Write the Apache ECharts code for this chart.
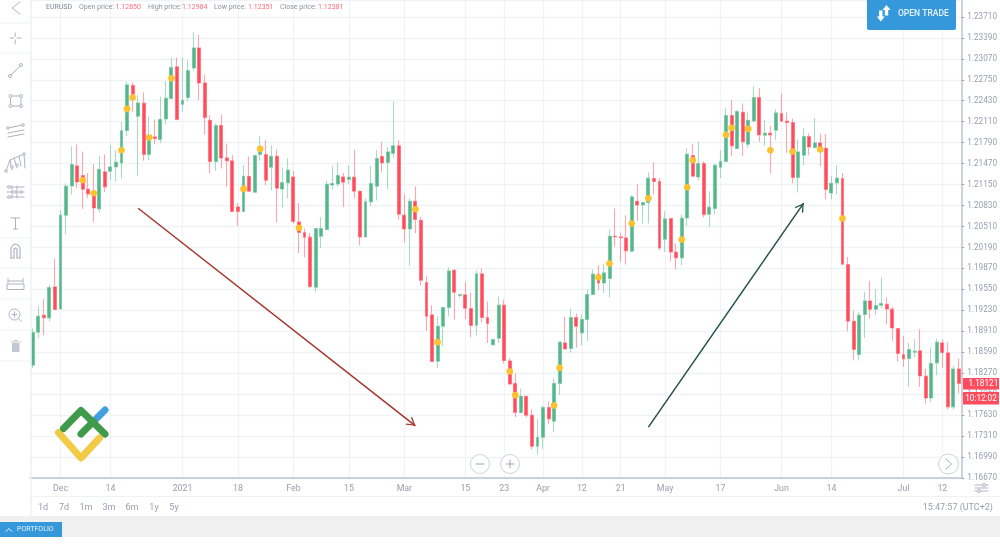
<!DOCTYPE html>
<html>
<head>
<meta charset="utf-8">
<title>EURUSD</title>
<script src="https://cdn.jsdelivr.net/npm/echarts@6/dist/echarts.min.js"></script>
<style>
  html, body { margin: 0; padding: 0; background: #fff; }
  #chart { width: 1000px; height: 545px; }
</style>
</head>
<body>
<div id="chart"></div>
<script>
// daily EURUSD candles
const opens = [
  1.18392,1.18896,1.19156,1.19115,1.19588,1.19252,1.20683,1.21130,1.21435,1.21289,
  1.21080,1.21014,1.20779,1.21344,1.21354,1.21420,1.21481,1.21976,1.22663,1.22194,
  1.22393,1.21609,1.21878,1.21838,1.22153,1.22464,1.22947,1.22377,1.22480,1.22931,
  1.23237,1.22702,1.22133,1.21502,1.22052,1.21557,1.21512,1.20809,1.20739,1.21278,
  1.21034,1.21609,1.21609,1.21415,1.21583,1.21084,1.21176,1.21267,1.20580,1.20419,
  1.20347,1.19583,1.20362,1.20464,1.21145,1.21160,1.21267,1.21228,1.21263,1.21049,
  1.20351,1.20886,1.21125,1.21579,1.21487,1.21625,1.21741,1.20683,1.20473,1.20896,
  1.20606,1.19655,1.19160,1.18454,1.18988,1.19273,1.19843,1.19457,1.19466,1.19258,
  1.19003,1.19786,1.19121,1.18703,1.18805,1.19309,1.18458,1.18113,1.17670,1.17919,
  1.17629,1.17156,1.17293,1.17747,1.17538,1.18113,1.18733,1.18648,1.19121,1.18886,
  1.19090,1.19472,1.19782,1.19649,1.19716,1.20362,1.20351,1.20336,1.20133,1.20896,
  1.20840,1.20877,1.21243,1.21197,1.20316,1.20632,1.20118,1.20031,1.20641,1.21594,
  1.21267,1.21472,1.20698,1.20785,1.21415,1.21502,1.22205,1.21701,1.22255,1.21767,
  1.22122,1.22480,1.21904,1.21935,1.21980,1.22235,1.22118,1.22098,1.21258,1.21599,
  1.21884,1.21716,1.21786,1.21705,1.21023,1.21176,1.21243,1.19930,1.19064,1.18556,
  1.19167,1.19374,1.19248,1.19309,1.19324,1.19248,1.18953,1.18556,1.18495,1.18591,
  1.18611,1.18225,1.17893,1.18428,1.18733,1.18580,1.17756,1.18336
];
const closes = [
  1.18892,1.19141,1.19115,1.19579,1.19243,1.20683,1.21125,1.21457,1.21191,1.21080,
  1.21008,1.20794,1.21385,1.21115,1.21420,1.21492,1.21970,1.22672,1.22530,1.22397,
  1.21609,1.21889,1.21854,1.22144,1.22469,1.22938,1.22144,1.22438,1.22892,1.23237,
  1.22702,1.22174,1.21502,1.22052,1.21557,1.21512,1.20739,1.20739,1.21278,1.21049,
  1.21594,1.21701,1.21217,1.21583,1.21095,1.21182,1.21370,1.20586,1.20419,1.20347,
  1.19594,1.20480,1.20480,1.21156,1.21167,1.21289,1.21186,1.21263,1.21049,1.20351,
  1.20886,1.21167,1.21548,1.21481,1.21649,1.21741,1.20698,1.20473,1.20896,1.20617,
  1.19690,1.19141,1.18449,1.18988,1.19273,1.19832,1.19507,1.19472,1.19263,1.18999,
  1.19786,1.19121,1.19029,1.18785,1.19309,1.18464,1.18107,1.17670,1.17919,1.17629,
  1.17156,1.17289,1.17747,1.17573,1.18113,1.18744,1.18641,1.19121,1.18988,1.19090,
  1.19472,1.19782,1.19649,1.19802,1.20362,1.20350,1.20339,1.20138,1.20962,1.20840,
  1.20877,1.21248,1.21197,1.20183,1.20626,1.20122,1.20031,1.20637,1.21614,1.21278,
  1.21472,1.20693,1.20805,1.21446,1.21502,1.22205,1.21741,1.22266,1.21802,1.22133,
  1.22480,1.21908,1.21935,1.21908,1.22244,1.22118,1.22098,1.21258,1.21649,1.21884,
  1.21725,1.21786,1.21655,1.21075,1.21171,1.21248,1.19934,1.19064,1.18632,1.19156,
  1.19374,1.19248,1.19304,1.19335,1.19252,1.18962,1.18571,1.18489,1.18632,1.18606,
  1.18229,1.17893,1.18418,1.18744,1.18586,1.17756,1.18336,1.18113
];
const lows = [
  1.18351,1.18805,1.18851,1.19060,1.19232,1.19243,1.20392,1.20999,1.21099,1.20779,
  1.20947,1.20576,1.20724,1.21038,1.21217,1.21202,1.21243,1.21893,1.22251,1.21283,
  1.21512,1.21522,1.21767,1.21786,1.22067,1.22454,1.22133,1.22260,1.22423,1.22896,
  1.22438,1.21919,1.21319,1.21359,1.21396,1.21115,1.20733,1.20519,1.20733,1.21038,
  1.21023,1.21512,1.21141,1.21064,1.20576,1.20800,1.20938,1.20556,1.20107,1.20037,
  1.19568,1.19512,1.20183,1.20454,1.21075,1.21125,1.20809,1.21156,1.20938,1.20225,
  1.20347,1.20820,1.20907,1.21339,1.21084,1.21553,1.20611,1.20270,1.19909,1.20412,
  1.19609,1.18916,1.18443,1.18351,1.18683,1.19141,1.19090,1.19426,1.19099,1.18815,
  1.18851,1.19049,1.18733,1.18698,1.18733,1.18418,1.18087,1.17603,1.17655,1.17594,
  1.17105,1.17034,1.17115,1.17487,1.17374,1.17939,1.18637,1.18586,1.18657,1.18698,
  1.18764,1.19466,1.19538,1.19496,1.19426,1.20209,1.19970,1.19930,1.20122,1.20596,
  1.20556,1.20556,1.21003,1.20148,1.20122,1.19980,1.19858,1.19919,1.20519,1.21273,
  1.21217,1.20652,1.20504,1.20698,1.21252,1.21492,1.21588,1.21690,1.21588,1.21710,
  1.22102,1.21802,1.21741,1.21319,1.21828,1.22110,1.21634,1.21167,1.21034,1.21450,
  1.21599,1.21701,1.21431,1.20922,1.20922,1.20999,1.19927,1.18912,1.18469,1.18469,
  1.18809,1.19105,1.19156,1.19258,1.19018,1.18764,1.18443,1.18367,1.18061,1.18510,
  1.18061,1.17808,1.17832,1.18240,1.18351,1.17716,1.17716,1.17960
];
const highs = [
  1.18953,1.19293,1.19400,1.19618,1.20021,1.20759,1.21167,1.21736,1.21762,1.21655,
  1.21328,1.21461,1.21583,1.21614,1.21751,1.21675,1.22107,1.22718,1.22709,1.22515,
  1.22560,1.22194,1.22144,1.22489,1.22733,1.23090,1.23090,1.23090,1.23049,1.23476,
  1.23435,1.22831,1.22209,1.22083,1.22220,1.21777,1.21599,1.20870,1.21446,1.21573,
  1.21599,1.21889,1.21828,1.21751,1.21686,1.21411,1.21548,1.21359,1.20870,1.20480,
  1.20412,1.20484,1.20652,1.21212,1.21431,1.21492,1.21328,1.21446,1.21686,1.21064,
  1.20938,1.21431,1.21675,1.21797,1.21725,1.22419,1.21828,1.20999,1.20938,1.21125,
  1.20657,1.19751,1.19309,1.19141,1.19283,1.19884,1.19858,1.19477,1.19660,1.19503,
  1.19838,1.19869,1.19365,1.18794,1.19446,1.19396,1.18499,1.18266,1.18037,1.17927,
  1.17716,1.17579,1.17777,1.17843,1.18190,1.18748,1.19130,1.19258,1.19182,1.19171,
  1.19548,1.19854,1.19919,1.19934,1.20469,1.20785,1.20415,1.20683,1.20988,1.21156,
  1.20886,1.21335,1.21487,1.21252,1.20744,1.20637,1.20250,1.20693,1.21701,1.21767,
  1.21802,1.21507,1.21049,1.21472,1.21675,1.22321,1.22438,1.22286,1.22388,1.22260,
  1.22652,1.22622,1.22133,1.22041,1.22301,1.22541,1.22251,1.22159,1.21843,1.22006,
  1.21930,1.22168,1.21930,1.21919,1.21283,1.21446,1.21328,1.20046,1.19232,1.19206,
  1.19512,1.19680,1.19553,1.19731,1.19426,1.19283,1.18958,1.18835,1.18733,1.18790,
  1.18942,1.18342,1.18663,1.18800,1.18785,1.18744,1.18382,1.18495
];

// yellow event dots: candle index and price
const dotIndex = [9,11,16,17,18,21,25,38,41,48,69,73,86,87,94,95,102,104,108,111,117,118,119,125,126,129,133,137,142,146];
const dotPrice = [
  1.21217,1.21018,1.21675,1.22305,1.22480,1.21868,1.22774,1.21084,1.21695,1.20489,
  1.20774,1.18744,1.18296,1.17935,1.17778,1.18351,1.19736,1.19945,1.20556,1.20942,
  1.20312,1.21110,1.21522,1.21909,1.22015,1.22000,1.21675,1.21655,1.21685,1.20632
];

// date labels on the time axis
const tickIndex = [5,14,27,37,47,57,67,78,85,92,99,106,114,124,135,144,157,164];
const tickText = ['Dec','14','2021','18','Feb','15','Mar','15','23','Apr','12','21','May','17','Jun','14','Jul','12'];

const rangeButtons = ['1d','7d','1m','3m','6m','1y','5y'];
const rangeButtonX = [43,64,86,109,132,154,174];

const priceMin = 1.1667;
const priceMax = 1.23968;
const priceStep = 0.0032;

const categories = opens.map(function (v, i) {
  const k = tickIndex.indexOf(i);
  return k >= 0 ? tickText[k] : String(i);
});
const isDateTick = function (i) { return tickIndex.indexOf(i) >= 0; };

const iconColor = '#adb4c1';
const paleLine = '#eef1f5';
const blue = '#3498db';
const red = '#ff4d5e';
const green = '#55b78c';

// little helpers for the page furniture around the chart
function ln(x1, y1, x2, y2, color, w) {
  return { type: 'line', z: 60, shape: { x1: x1, y1: y1, x2: x2, y2: y2 }, style: { stroke: color || iconColor, lineWidth: w || 1, lineCap: 'round' } };
}
function poly(points, color, w) {
  return { type: 'polyline', z: 60, shape: { points: points }, style: { stroke: color || iconColor, lineWidth: w || 1, lineCap: 'round', lineJoin: 'round', fill: null } };
}
function circ(x, y, r, fill, stroke) {
  return { type: 'circle', z: 60, shape: { cx: x, cy: y, r: r }, style: { fill: fill || '#fff', stroke: stroke || iconColor, lineWidth: 1 } };
}
function box(x, y, w, h, fill, r) {
  return { type: 'rect', z: 55, shape: { x: x, y: y, width: w, height: h, r: r || 0 }, style: { fill: fill } };
}
function txt(x, y, text, color, size, align, weight) {
  return { type: 'text', z: 61, x: x, y: y, style: { text: text, fill: color, font: (weight || 'normal') + ' ' + size + 'px Roboto', textAlign: align || 'left', textVerticalAlign: 'middle' } };
}

const furniture = [
  // toolbar frame
  ln(31, 0, 31, 516, paleLine, 1.5),
  ln(0, 23, 31, 23, paleLine), ln(0, 53, 31, 53, paleLine),
  ln(0, 238, 31, 238, paleLine), ln(0, 268, 31, 268, paleLine), ln(0, 299, 31, 299, paleLine),
  ln(0, 330, 31, 330, paleLine), ln(0, 361, 31, 361, paleLine),
  // back chevron
  poly([[20, 2], [12, 8], [20, 14]]),
  // crosshair
  ln(10, 38, 13.5, 38), ln(17, 38, 21, 38), ln(15.2, 33, 15.2, 36.5), ln(15.2, 40, 15.2, 44),
  // trend line
  ln(10, 76, 21, 65), circ(10, 76, 1.5), circ(21, 65, 1.5),
  // rectangle
  { type: 'rect', z: 60, shape: { x: 10.5, y: 96, width: 10.5, height: 10 }, style: { fill: null, stroke: iconColor, lineWidth: 1 } },
  circ(10.5, 96, 1.5), circ(21, 96, 1.5), circ(10.5, 106, 1.5), circ(21, 106, 1.5),
  // channel
  ln(8, 128, 23, 125), ln(8, 133, 24, 130), ln(8, 137, 24, 134), circ(8, 128, 1.3), circ(23, 125, 1.3),
  // pitchfork
  poly([[6, 171], [10, 160], [24, 154], [25, 168]]), poly([[10, 160], [12, 170]]), poly([[14, 158], [17, 168]]), poly([[19, 156], [21, 166]]),
  circ(6, 171, 1.3), circ(12, 167, 1.3), circ(17, 165, 1.3), circ(24, 154, 1.3),
  // fibonacci
  ln(7, 187, 24, 187), ln(7, 192, 24, 192), ln(7, 197, 24, 197), ln(12, 186, 12, 198), ln(17, 186, 17, 198),
  circ(9, 187, 1.3), circ(14.5, 192, 1.3), circ(21, 192, 1.3), circ(9, 197, 1.3),
  // text tool
  ln(11, 218, 20, 218), ln(15.5, 218, 15.5, 229), ln(13.5, 229, 17.5, 229),
  // magnet
  poly([[11, 258], [11, 248], [13, 245], [15.5, 244], [18, 245], [20, 248], [20, 258]], iconColor, 1.2),
  poly([[14, 258], [14, 249], [15.5, 248], [17, 249], [17, 258]], iconColor, 1.2),
  ln(11, 258, 14, 258), ln(17, 258, 20, 258),
  // ruler
  { type: 'rect', z: 60, shape: { x: 7, y: 284, width: 17, height: 5.5 }, style: { fill: null, stroke: iconColor, lineWidth: 1 } },
  ln(8, 281, 23, 281), ln(8, 278.5, 8, 283), ln(23, 278.5, 23, 283),
  // zoom
  circ(14.5, 314.5, 5.5), ln(18.5, 318.5, 21.5, 321.5), ln(12, 314.5, 17, 314.5), ln(14.5, 312, 14.5, 317),
  // bin
  { type: 'rect', z: 60, shape: { x: 12, y: 343, width: 7.5, height: 9, r: 1 }, style: { fill: '#c3c8d1' } },
  ln(11, 342, 20.5, 342, '#c3c8d1', 1.2), ln(14, 340.5, 17.5, 340.5, '#c3c8d1', 1),

  // header line
  txt(46, 7.5, 'EURUSD', '#7c8596', 7),
  txt(79, 7.5, 'Open price:', '#8a92a2', 7), txt(115.5, 7.5, '1.12850', '#ff6b78', 7),
  txt(148, 7.5, 'High price:', '#8a92a2', 7), txt(182, 7.5, '1.12984', '#ff6b78', 7),
  txt(214, 7.5, 'Low price:', '#8a92a2', 7), txt(248, 7.5, '1.12351', '#ff6b78', 7),
  txt(280, 7.5, 'Close price:', '#8a92a2', 7), txt(318, 7.5, '1.12381', '#ff6b78', 7),

  // open trade button
  box(867, -3, 89, 33, blue, 2),
  { type: 'polygon', z: 60, shape: { points: [[886.5, 5], [890.5, 10], [888.2, 10], [888.2, 15.5], [884.8, 15.5], [884.8, 10], [882.5, 10]] }, style: { fill: '#fff' } },
  { type: 'polygon', z: 60, shape: { points: [[880.8, 21.5], [876.8, 16.5], [879.1, 16.5], [879.1, 10.5], [882.5, 10.5], [882.5, 16.5], [884.8, 16.5]] }, style: { fill: '#fff' } },
  txt(898, 13.5, 'OPEN TRADE', '#e8f4fc', 8.5, 'left', '500'),

  // last price and countdown
  box(963, 378, 36, 11.5, red), txt(968.5, 384, '1.18121', '#fff', 8.2),
  box(963, 392, 36, 12.5, red), txt(981, 398.5, '10:12:02', '#fff', 8.2, 'center'),

  // white under the price scale
  box(964, 480, 36, 16, '#fff'),

  // logo
  poly([[58.5, 432.5], [81, 458], [99.5, 438]], '#f3ca45', 7),
  poly([[93.5, 421.5], [105, 410]], '#42a0e0', 7),
  poly([[63.5, 428.5], [81, 410.5], [105, 434]], '#3f9a4c', 7),
  poly([[81, 434], [93.5, 421.5]], '#3f9a4c', 7),

  // round buttons
  circ(480, 464, 9.5, '#fff', '#cdd3dc'), ln(476, 464, 484, 464, '#9fa7b5'),
  circ(510, 464, 9.5, '#fff', '#cdd3dc'), ln(506, 464, 514, 464, '#9fa7b5'), ln(510, 460, 510, 468, '#9fa7b5'),
  circ(948.5, 464, 10, '#fff', '#cdd3dc'), poly([[946, 459], [951.5, 464], [946, 469]], '#a6adba', 1),

  // settings icon
  ln(975, 485, 988, 485), ln(975, 488, 988, 488), ln(975, 491, 988, 491), circ(984, 485, 1.5), circ(979, 491, 1.5),

  // bottom rows
  ln(31, 496.5, 1000, 496.5, paleLine),
  box(0, 516, 1000, 21, '#f0f0f0'),
  box(0, 522, 62, 15, blue),
  poly([[6, 531.5], [9, 528.5], [12, 531.5]], '#e8f4fc', 1),
  txt(17, 529.5, 'PORTFOLIO', '#e8f4fc', 7),
  txt(993, 507.5, '15:47:57 (UTC+2)', '#98a0ae', 9, 'right')
];
rangeButtons.forEach(function (b, i) {
  furniture.push(txt(rangeButtonX[i], 507.5, b, '#98a0ae', 9, 'center'));
});

const chart = echarts.init(document.getElementById('chart'), null, { renderer: 'canvas' });

chart.setOption({
  animation: false,
  backgroundColor: '#fff',
  textStyle: { fontFamily: 'Roboto' },
  grid: { left: 30, right: 37, top: 0, bottom: 67, containLabel: false },
  xAxis: {
    type: 'category',
    data: categories,
    boundaryGap: true,
    axisLine: { lineStyle: { color: '#bcc5d2', width: 1.5 } },
    axisTick: { interval: isDateTick, alignWithLabel: true, length: 2.5, lineStyle: { color: '#9aa3b0' } },
    axisLabel: { interval: isDateTick, color: '#98a0ae', fontSize: 8.8, margin: 6, hideOverlap: false },
    splitLine: { show: true, interval: isDateTick, alignWithLabel: true, lineStyle: { color: '#eff3f8', width: 1.2 } }
  },
  yAxis: {
    type: 'value',
    position: 'right',
    min: priceMin,
    max: priceMax,
    interval: priceStep,
    axisLine: { show: true, lineStyle: { color: '#bcc5d2', width: 1.5 } },
    axisTick: { show: true, length: 2.5, lineStyle: { color: '#9aa3b0' } },
    axisLabel: {
      color: '#98a0ae', fontSize: 8.2, margin: 5.5, showMaxLabel: false, padding: [2, 0, 0, 0],
      formatter: function (v) { return v.toFixed(5); }
    },
    splitLine: { show: true, lineStyle: { color: '#f0f3f6', width: 1.4 } }
  },
  series: [
    {
      type: 'candlestick',
      barWidth: 3.4,
      data: opens.map(function (o, i) { return [o, closes[i], lows[i], highs[i]]; }),
      itemStyle: {
        color: green,
        color0: red,
        borderColor: 'rgba(85,183,140,0.5)',
        borderColor0: 'rgba(255,77,94,0.5)',
        borderColorDoji: 'rgba(255,77,94,0.5)',
        borderWidth: 1.1
      },
      markLine: {
        silent: true,
        animation: false,
        symbol: ['none', 'path://M0,-9 L0.01,-9 Z M0,0 L5,8 L4,9 L0,2.2 L-4,9 L-5,8 Z'],
        symbolSize: [10, 18],
        label: { show: false },
        data: [
          [{ coord: [19, 1.20789], lineStyle: { color: '#a5352b', width: 1.5, type: 'solid' } }, { coord: [69, 1.17466] }],
          [{ coord: [111, 1.17446], lineStyle: { color: '#24504a', width: 1.5, type: 'solid' } }, { coord: [139, 1.20866] }]
        ]
      }
    },
    {
      type: 'scatter',
      symbolSize: 6.6,
      itemStyle: { color: '#fcc22f', opacity: 1 },
      data: dotIndex.map(function (x, i) { return [x, dotPrice[i]]; }),
      z: 4
    }
  ],
  graphic: { elements: furniture }
});
</script>
</body>
</html>
